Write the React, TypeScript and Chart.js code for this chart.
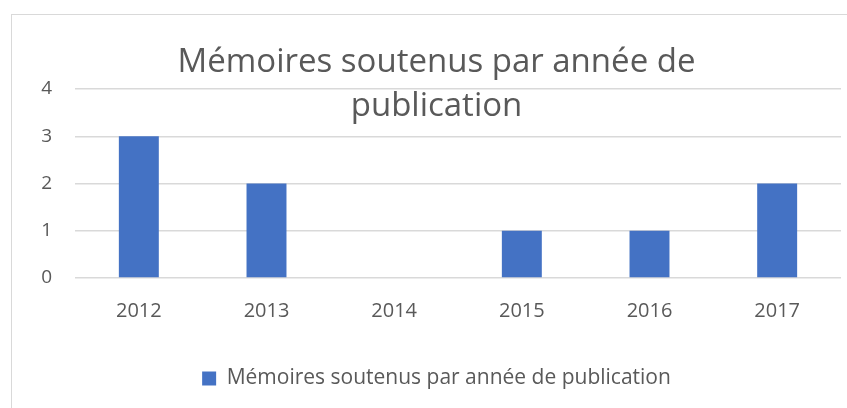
import React, { useEffect, useRef } from "react";
import { Chart, registerables } from "chart.js";

Chart.register(...registerables);

const years = ["2012", "2013", "2014", "2015", "2016", "2017"];
const counts = [3, 2, 0, 1, 1, 2];
const seriesLabel = "Mémoires soutenus par année de publication";
const titleLines = ["Mémoires soutenus par année de", "publication"];
const yTicks = [0, 1, 2, 3, 4];

const FONT = "'Open Sans', 'Noto Sans', sans-serif";
const TEXT = "#595959";

export default function App() {
  const ref = useRef<HTMLCanvasElement | null>(null);
  useEffect(() => {
    if (!ref.current) return;
    const chart = new Chart(ref.current, {
      type: "bar",
      data: {
        labels: years,
        datasets: [
          {
            label: seriesLabel,
            data: counts,
            backgroundColor: "#4472C4",
            borderWidth: 0,
            barPercentage: 0.313,
            categoryPercentage: 1,
          },
        ],
      },
      options: {
        animation: false,
        responsive: false,
        layout: { padding: { left: 20, right: 6, top: 0, bottom: 9 } },
        plugins: {
          title: {
            display: true,
            text: titleLines,
            color: TEXT,
            font: { family: FONT, size: 33, weight: "normal", lineHeight: "44px" },
            padding: { top: 26, bottom: -40 },
          },
          legend: {
            display: true,
            position: "bottom",
            labels: {
              color: TEXT,
              font: { family: FONT, size: 21 },
              boxWidth: 14,
              boxHeight: 14,
              padding: 10,
            },
          },
          tooltip: { enabled: false },
        },
        scales: {
          x: {
            grid: { display: false },
            border: { display: false },
            ticks: {
              color: TEXT,
              font: { family: FONT, size: 20 },
              padding: 13,
              maxRotation: 0,
            },
            afterFit: (s: any) => {
              s.height = 80;
            },
          },
          y: {
            min: 0,
            max: 4,
            afterBuildTicks: (s: any) => {
              s.ticks = yTicks.map((v) => ({ value: v }));
            },
            grid: { color: "#d9d9d9", lineWidth: 1.5, drawTicks: false },
            border: { display: false },
            ticks: {
              color: TEXT,
              font: { family: FONT, size: 19 },
              padding: 23,
            },
            afterFit: (s: any) => {
              s.width = 43;
            },
          },
        },
      },
    });
    return () => chart.destroy();
  }, []);
  return (
    <div
      style={{
        position: "absolute",
        left: 11,
        top: 14,
        width: 840,
        height: 400,
        border: "1px solid #d9d9d9",
        boxSizing: "border-box",
        background: "#fff",
      }}
    >
      <canvas ref={ref} width={835} height={393} style={{ display: "block" }} />
    </div>
  );
}
